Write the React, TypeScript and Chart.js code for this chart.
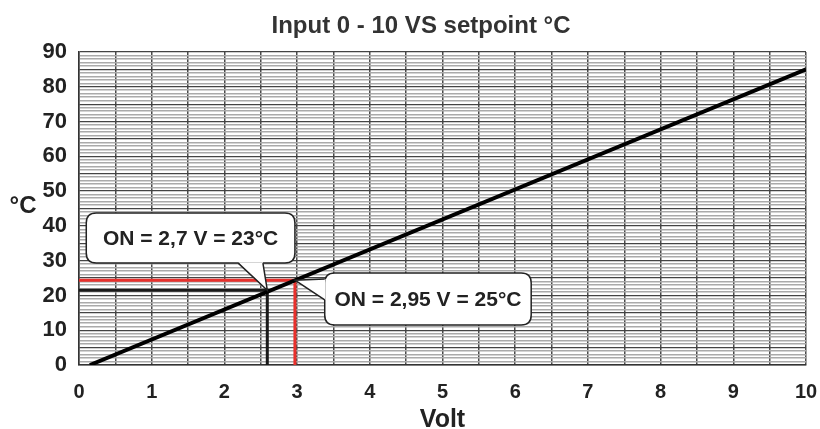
import React, { useEffect, useRef } from "react";
import { Chart, registerables } from "chart.js";

Chart.register(...registerables);

const titleText = "Input 0 - 10 VS setpoint °C";
const xAxisTitle = "Volt";
const yAxisTitle = "°C";

// main characteristic line (Volt -> °C)
const lineVolt = [0.15, 10];
const lineTemp = [0, 85];

// operating points
const blackPoint = { x: 2.59, y: 21.5 };
const redPoint = { x: 2.97, y: 24.4 };

const callout1Text = "ON = 2,7 V = 23°C";
const callout2Text = "ON = 2,95 V = 25°C";

// callout boxes in data units
const callout1Box = { x0: 0.1, x1: 2.97, y0: 29.3, y1: 43.7 };
const callout1Base = [2.19, 2.53];
const callout2Box = { x0: 3.38, x1: 6.22, y0: 11.5, y1: 26.45 };
const callout2Base = [24.7, 18.7];

const FONT = "'Liberation Sans', Arial, sans-serif";

function roundRect(ctx: CanvasRenderingContext2D, x: number, y: number, w: number, h: number, r: number) {
  ctx.beginPath();
  ctx.moveTo(x + r, y);
  ctx.lineTo(x + w - r, y);
  ctx.quadraticCurveTo(x + w, y, x + w, y + r);
  ctx.lineTo(x + w, y + h - r);
  ctx.quadraticCurveTo(x + w, y + h, x + w - r, y + h);
  ctx.lineTo(x + r, y + h);
  ctx.quadraticCurveTo(x, y + h, x, y + h - r);
  ctx.lineTo(x, y + r);
  ctx.quadraticCurveTo(x, y, x + r, y);
  ctx.closePath();
}

const overlayPlugin = {
  id: "overlay",
  afterDraw(chart: any) {
    const ctx: CanvasRenderingContext2D = chart.ctx;
    const xs = chart.scales.x;
    const ys = chart.scales.y;
    const area = chart.chartArea;
    ctx.save();
    // title
    ctx.fillStyle = "#333";
    ctx.font = `bold 24px ${FONT}`;
    ctx.textAlign = "center";
    ctx.textBaseline = "alphabetic";
    ctx.fillText(titleText, 421, 33);
    // y axis title
    ctx.font = `bold 24px ${FONT}`;
    ctx.fillStyle = "#222";
    ctx.fillText(yAxisTitle, 23, 213);
    // x axis title
    ctx.font = `bold 25px ${FONT}`;
    ctx.fillText(xAxisTitle, (area.left + area.right) / 2, 427);

    ctx.textBaseline = "middle";
    ctx.lineWidth = 1.5;
    ctx.strokeStyle = "#222";
    // callout 1
    {
      const bx0 = xs.getPixelForValue(callout1Box.x0);
      const bx1 = xs.getPixelForValue(callout1Box.x1);
      const by0 = ys.getPixelForValue(callout1Box.y1);
      const by1 = ys.getPixelForValue(callout1Box.y0);
      const tx = xs.getPixelForValue(blackPoint.x);
      const ty = ys.getPixelForValue(blackPoint.y);
      const p1 = xs.getPixelForValue(callout1Base[0]);
      const p2 = xs.getPixelForValue(callout1Base[1]);
      roundRect(ctx, bx0, by0, bx1 - bx0, by1 - by0, 10);
      ctx.fillStyle = "#fff";
      ctx.fill();
      ctx.stroke();
      ctx.beginPath();
      ctx.moveTo(p1, by1 - 0.75);
      ctx.lineTo(tx, ty);
      ctx.lineTo(p2, by1 - 0.75);
      ctx.closePath();
      ctx.fill();
      ctx.beginPath();
      ctx.moveTo(p1, by1);
      ctx.lineTo(tx, ty);
      ctx.lineTo(p2, by1);
      ctx.stroke();
      ctx.fillStyle = "#222";
      ctx.font = `bold 21px ${FONT}`;
      ctx.textAlign = "center";
      ctx.fillText(callout1Text, (bx0 + bx1) / 2, (by0 + by1) / 2 + 1);
    }
    // callout 2
    {
      const bx0 = xs.getPixelForValue(callout2Box.x0);
      const bx1 = xs.getPixelForValue(callout2Box.x1);
      const by0 = ys.getPixelForValue(callout2Box.y1);
      const by1 = ys.getPixelForValue(callout2Box.y0);
      const tx = xs.getPixelForValue(redPoint.x);
      const ty = ys.getPixelForValue(redPoint.y);
      const q1 = ys.getPixelForValue(callout2Base[0]);
      const q2 = ys.getPixelForValue(callout2Base[1]);
      roundRect(ctx, bx0, by0, bx1 - bx0, by1 - by0, 10);
      ctx.fillStyle = "#fff";
      ctx.fill();
      ctx.stroke();
      ctx.beginPath();
      ctx.moveTo(bx0 + 0.75, q1);
      ctx.lineTo(tx, ty);
      ctx.lineTo(bx0 + 0.75, q2);
      ctx.closePath();
      ctx.fill();
      ctx.beginPath();
      ctx.moveTo(bx0, q1);
      ctx.lineTo(tx, ty);
      ctx.lineTo(bx0, q2);
      ctx.stroke();
      ctx.fillStyle = "#222";
      ctx.font = `bold 21px ${FONT}`;
      ctx.textAlign = "center";
      ctx.fillText(callout2Text, (bx0 + bx1) / 2, (by0 + by1) / 2 + 1);
    }
    ctx.restore();
  },
};

export default function App() {
  const ref = useRef<HTMLCanvasElement | null>(null);
  useEffect(() => {
    document.body.style.margin = "0";
    const canvas = ref.current!;
    const chart = new Chart(canvas, {
      type: "line",
      data: {
        datasets: [
          {
            data: lineVolt.map((v, i) => ({ x: v, y: lineTemp[i] })),
            borderColor: "#000",
            borderWidth: 4,
            pointRadius: 0,
            order: 0,
          },
          {
            data: [
              { x: 0, y: blackPoint.y },
              { x: blackPoint.x, y: blackPoint.y },
              { x: blackPoint.x, y: 0 },
            ],
            borderColor: "#1a1a1a",
            borderWidth: 3,
            pointRadius: 0,
            order: 2,
          },
          {
            data: [
              { x: 0, y: redPoint.y },
              { x: redPoint.x, y: redPoint.y },
              { x: redPoint.x, y: 0 },
            ],
            borderColor: "#e8302c",
            borderWidth: 3,
            pointRadius: 0,
            order: 1,
          },
        ],
      },
      options: {
        animation: false,
        responsive: false,
        maintainAspectRatio: false,
        layout: { padding: { top: 52, right: 14, left: 0, bottom: 0 } },
        plugins: { legend: { display: false }, tooltip: { enabled: false }, title: { display: false } },
        scales: {
          x: {
            type: "linear",
            min: 0,
            max: 10,
            afterFit: (s: any) => {
              s.height = 64;
              s.paddingLeft = 0;
              s.paddingRight = 0;
            },
            ticks: {
              stepSize: 0.5,
              autoSkip: false,
              maxRotation: 0,
              padding: 15,
              color: "#222",
              font: { family: FONT, size: 20, weight: "bold" },
              callback: (v: any) => (Number(v) % 1 === 0 ? String(v) : ""),
            },
            grid: { color: "#4a4a4a", lineWidth: 1.5, drawTicks: false },
            border: { color: "#333", width: 1.5 },
          },
          y: {
            type: "linear",
            min: 0,
            max: 90,
            afterFit: (s: any) => {
              s.width = 79;
              s.paddingTop = 0;
              s.paddingBottom = 0;
            },
            ticks: {
              stepSize: 1,
              autoSkip: false,
              maxTicksLimit: 200,
              padding: 12,
              color: "#222",
              font: { family: FONT, size: 22, weight: "bold" },
              callback: (v: any) => (Number(v) % 10 === 0 ? String(v) : ""),
            },
            grid: {
              drawTicks: false,
              color: (c: any) => (c.tick && c.tick.value % 5 === 0 ? "#444" : "#aaa"),
              lineWidth: (c: any) => (c.tick && c.tick.value % 5 === 0 ? 1.3 : 1.6),
            },
            border: { color: "#333", width: 1.5 },
          },
        },
      },
      plugins: [overlayPlugin],
    } as any);
    return () => chart.destroy();
  }, []);
  return <canvas ref={ref} width={820} height={429} style={{ display: "block" }} />;
}
